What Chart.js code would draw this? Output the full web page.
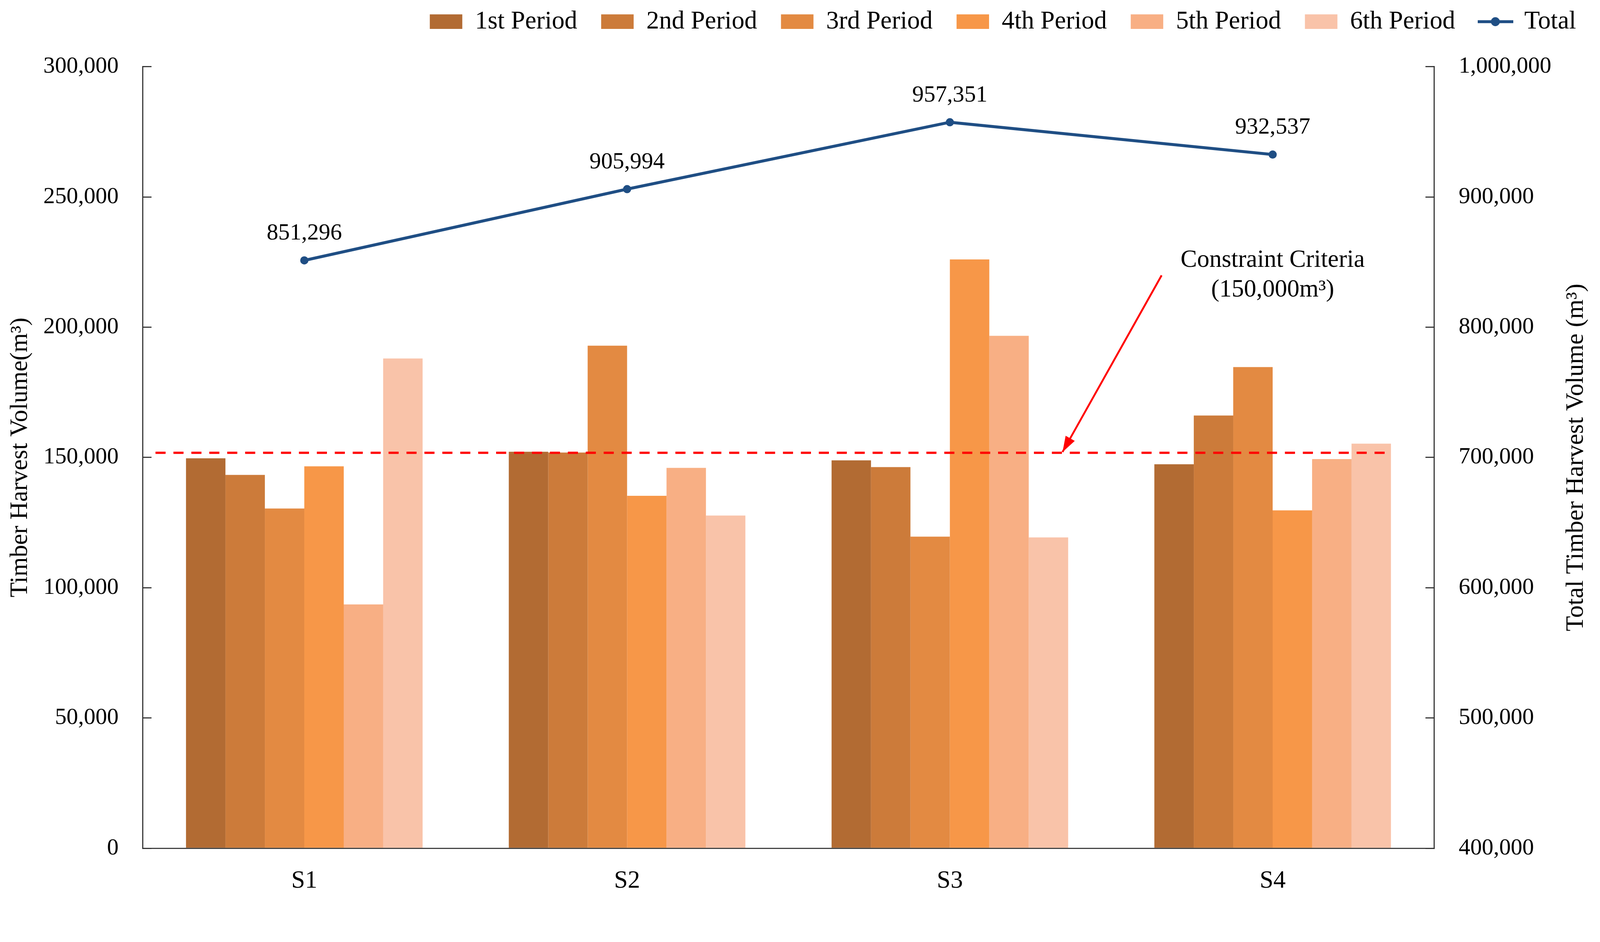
<!DOCTYPE html>
<html>
<head>
<meta charset="utf-8">
<title>Timber Harvest Volume by Scenario</title>
<script src="https://cdn.jsdelivr.net/npm/chart.js@4.4.1/dist/chart.umd.min.js"></script>
<style>
  html, body { margin: 0; padding: 0; background: #fff; overflow: hidden; }
  #wrap { width: 100vw; height: 100vh; }
  #harvestChart { display: block; }
</style>
</head>
<body>
<div id="wrap"><canvas id="harvestChart"></canvas></div>
<script>
"use strict";

// scenarios and per-period harvest volumes (m3)
const scenarios = ["S1", "S2", "S3", "S4"];
const periodNames = ["1st Period", "2nd Period", "3rd Period", "4th Period", "5th Period", "6th Period"];
const period1 = [149700, 152200, 148900, 147400];
const period2 = [143300, 151900, 146300, 166100];
const period3 = [130400, 192900, 119600, 184700];
const period4 = [146600, 135300, 226000, 129700];
const period5 = [93600, 146000, 196700, 149400];
const period6 = [188000, 127700, 119300, 155300];
const totals = [851296, 905994, 957351, 932537];

// constraint line (as drawn) and the arrow pointing at it, in category units
const constraintLevel = 151800;
const constraintSpan = [-0.461, 3.367];
const arrowFrom = { x: 2.656, y: 219900 };
const arrowTo = { x: 2.349, y: 152100 };
const noteLines = ["Constraint Criteria", "(150,000m\u00B3)"];
const noteX = 3.0;
const noteY = [225600, 214200];

const leftTitle = "Timber Harvest Volume(m\u00B3)";
const rightTitle = "Total Timber Harvest Volume (m\u00B3)";

const periodColors = ["#B26B33", "#CC7B3A", "#E38A42", "#F79748", "#F8AF84", "#F9C3A9"];
const navy = "#1F4E84";
const serif = "'Liberation Serif', 'Times New Roman', serif";

window.addEventListener("load", function() {
    // sizes below are in pixels of the 4284 x 2411 picture
    const k = window.innerWidth / 4284;
    const px = v => v * k;
    document.getElementById("wrap").style.height = px(2411) + "px";

    Chart.defaults.font.family = serif;
    Chart.defaults.color = "#000";

    // legend marker for the Total line: a short line with a dot
    const totalMarker = document.createElement("canvas");
    totalMarker.width = Math.round(px(95));
    totalMarker.height = Math.round(px(30));
    const mc = totalMarker.getContext("2d");
    mc.strokeStyle = navy;
    mc.lineWidth = px(8);
    mc.beginPath();
    mc.moveTo(0, totalMarker.height / 2);
    mc.lineTo(totalMarker.width, totalMarker.height / 2);
    mc.stroke();
    mc.fillStyle = navy;
    mc.beginPath();
    mc.arc(totalMarker.width / 2, totalMarker.height / 2, px(12), 0, Math.PI * 2);
    mc.fill();

    const periodData = [period1, period2, period3, period4, period5, period6];
    const barSets = periodData.map(function(vals, i) {
        return {
            "label": periodNames[i],
            "data": vals,
            "backgroundColor": periodColors[i],
            "borderWidth": 0,
            "categoryPercentage": 0.733,
            "barPercentage": 1.0,
            "yAxisID": "y",
            "order": 2
        };
    });

    const legendSpace = {
        id: "legendSpace",
        beforeInit(chart) {
            const fit = chart.legend.fit;
            chart.legend.fit = function() {
                fit.call(this);
                this.height += px(76);
            };
        }
    };

    const overlay = {
        id: "overlay",
        afterDatasetsDraw(chart) {
            const ctx = chart.ctx;
            ctx.save();

            // value labels above the Total points
            ctx.font = px(62) + "px " + serif;
            ctx.fillStyle = "#000";
            ctx.textAlign = "center";
            ctx.textBaseline = "middle";
            chart.getDatasetMeta(6).data.forEach(function(pt, i) {
                ctx.fillText(totals[i].toLocaleString("en-US"), pt.x, pt.y - px(72));
            });

            // arrow head
            const pts = chart.getDatasetMeta(8).data;
            const a = pts[0], b = pts[1];
            const ang = Math.atan2(b.y - a.y, b.x - a.x);
            const len = px(42), half = px(14);
            ctx.fillStyle = "#FF0000";
            ctx.beginPath();
            ctx.moveTo(b.x, b.y);
            ctx.lineTo(b.x - len * Math.cos(ang) + half * Math.sin(ang), b.y - len * Math.sin(ang) - half * Math.cos(ang));
            ctx.lineTo(b.x - len * Math.cos(ang) - half * Math.sin(ang), b.y - len * Math.sin(ang) + half * Math.cos(ang));
            ctx.closePath();
            ctx.fill();

            // note text
            const xs = chart.scales.x, ys = chart.scales.y;
            ctx.fillStyle = "#000";
            ctx.font = px(66) + "px " + serif;
            noteLines.forEach(function(t, i) {
                ctx.fillText(t, xs.getPixelForValue(noteX), ys.getPixelForValue(noteY[i]));
            });

            // right axis title, reading bottom to top like the left one
            const r = chart.scales.y1;
            const area = chart.chartArea;
            ctx.font = px(67) + "px " + serif;
            ctx.translate(r.right - px(23) - px(67) * 0.6, (area.top + area.bottom) / 2);
            ctx.rotate(-Math.PI / 2);
            ctx.fillText(rightTitle, 0, 0);
            ctx.restore();
        }
    };

    const ctx = document.getElementById("harvestChart");
    new Chart(ctx, {
        "type": "bar",
        "data": {
            "labels": scenarios,
            "datasets": barSets.concat([
                {
                    "type": "line",
                    "label": "Total",
                    "data": totals,
                    "yAxisID": "y1",
                    "borderColor": navy,
                    "backgroundColor": navy,
                    "borderWidth": px(8),
                    "pointRadius": px(11),
                    "pointBorderWidth": 0,
                    "pointBackgroundColor": navy,
                    "order": 0
                },
                {
                    "type": "line",
                    "label": "constraint",
                    "parsing": false,
                    "data": constraintSpan.map(x => ({ x: x, y: constraintLevel })),
                    "yAxisID": "y",
                    "borderColor": "#FF0000",
                    "borderWidth": px(6),
                    "borderDash": [px(27), px(21)],
                    "pointRadius": 0,
                    "order": 1
                },
                {
                    "type": "line",
                    "label": "arrow",
                    "parsing": false,
                    "data": [arrowFrom, arrowTo],
                    "yAxisID": "y",
                    "borderColor": "#FF0000",
                    "borderWidth": px(5),
                    "pointRadius": 0,
                    "order": 1
                }
            ])
        },
        "options": {
            "responsive": true,
            "maintainAspectRatio": false,
            "animation": false,
            "layout": { "padding": { "top": px(-40), "left": 0, "right": 0, "bottom": px(-37) } },
            "plugins": {
                "tooltip": { "enabled": false },
                "legend": {
                    "position": "top",
                    "align": "end",
                    "labels": {
                        "usePointStyle": true,
                        "pointStyleWidth": px(87),
                        "boxHeight": px(39),
                        "padding": px(64),
                        "color": "#000",
                        "font": { "size": px(68) },
                        "filter": item => item.datasetIndex <= 6,
                        "sort": (a, b) => a.datasetIndex - b.datasetIndex,
                        "generateLabels": function(chart) {
                            const items = Chart.defaults.plugins.legend.labels.generateLabels(chart);
                            items.forEach(function(it) {
                                it.pointStyle = it.datasetIndex === 6 ? totalMarker : "rect";
                                it.lineWidth = 0;
                            });
                            return items;
                        }
                    }
                }
            },
            "scales": {
                "x": {
                    "grid": { "display": false, "drawTicks": false },
                    "border": { "display": true, "color": "#333", "width": px(3) },
                    "ticks": { "font": { "size": px(66) }, "padding": px(49) }
                },
                "y": {
                    "position": "left",
                    "min": 0,
                    "max": 300000,
                    "grid": { "drawOnChartArea": false, "drawTicks": true, "tickLength": px(-23), "color": "#333", "lineWidth": px(3) },
                    "border": { "display": true, "color": "#333", "width": px(3) },
                    "ticks": {
                        "stepSize": 50000,
                        "padding": px(88),
                        "font": { "size": px(62) },
                        "callback": v => v.toLocaleString("en-US")
                    },
                    "title": {
                        "display": true,
                        "text": leftTitle,
                        "font": { "size": px(66) },
                        "padding": { "top": px(15), "bottom": px(-66) }
                    }
                },
                "y1": {
                    "position": "right",
                    "min": 400000,
                    "max": 1000000,
                    "grid": { "drawOnChartArea": false, "drawTicks": true, "tickLength": px(-23), "color": "#333", "lineWidth": px(3) },
                    "border": { "display": true, "color": "#333", "width": px(3) },
                    "ticks": {
                        "stepSize": 100000,
                        "padding": px(89),
                        "font": { "size": px(62) },
                        "callback": v => v.toLocaleString("en-US")
                    },
                    "title": {
                        // space is kept here; the text itself is drawn by the overlay plugin
                        "display": true,
                        "text": rightTitle,
                        "color": "rgba(0,0,0,0)",
                        "font": { "size": px(67) },
                        "padding": { "top": px(23), "bottom": px(-62) }
                    }
                }
            }
        },
        "plugins": [legendSpace, overlay]
    });
});
</script>
</body>
</html>
